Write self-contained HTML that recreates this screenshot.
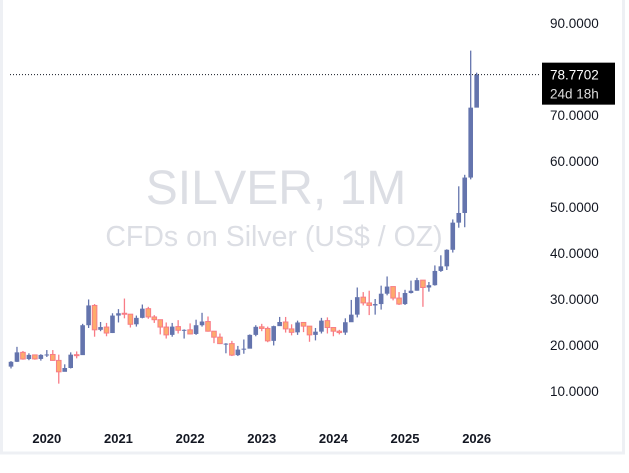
<!DOCTYPE html>
<html><head><meta charset="utf-8"><style>
html,body{margin:0;padding:0;background:#fff;}
svg{display:block;font-family:"Liberation Sans",sans-serif;}
</style></head><body>
<svg id="chart" width="629" height="473" viewBox="0 0 629 473" xmlns="http://www.w3.org/2000/svg">
<rect x="0" y="0" width="629" height="473" fill="#fff"/>
<rect x="1.5" y="-2" width="622" height="455" fill="none" stroke="#eef0f4" stroke-width="3"/>
<text x="276" y="204" font-size="48" fill="#dcdee4" text-anchor="middle">SILVER, 1M</text>
<text x="274" y="246" font-size="28.5" fill="#dcdee4" text-anchor="middle">CFDs on Silver (US$ / OZ)</text>
<g id="yaxis"></g>
<g id="xaxis"></g>
<g id="candles"></g>
<g id="last"></g>
</svg>
<script>
const startYear = 2019, startMonth = 6; // Jul 2019
const closes = [16.35,18.40,16.95,17.85,16.97,17.85,
17.94,16.65,14.17,15.00,17.90,17.80,24.30,28.60,23.30,23.90,22.60,26.40,
26.90,26.70,24.50,25.90,27.90,26.10,25.50,23.90,22.20,24.00,23.20,23.30,
22.40,24.30,25.10,23.00,21.70,20.30,20.30,17.80,19.00,19.20,22.20,23.95,
23.60,20.90,24.10,25.00,23.50,22.75,24.90,24.10,22.20,22.90,25.30,23.80,
23.00,22.70,24.95,26.60,30.40,29.15,28.60,28.90,31.15,32.70,30.20,28.90,
31.30,31.80,34.10,32.50,33.00,36.10,37.10,40.70,46.60,48.70,56.40,71.60,
78.77];
const highs = [16.5,19.6,18.7,18.2,17.9,18.0,
18.9,18.9,17.9,15.8,18.4,18.6,24.6,29.9,28.9,25.0,24.8,26.9,
27.8,30.1,26.7,26.4,28.8,28.3,26.5,24.9,24.9,24.8,25.4,23.4,
24.7,25.5,27.0,26.2,22.9,22.5,20.4,20.9,19.8,21.2,22.3,24.3,
24.6,24.0,24.2,26.1,26.1,24.5,25.3,25.0,23.8,23.7,25.9,26.0,
23.6,23.3,25.8,29.8,32.5,31.5,31.8,30.0,32.9,34.9,32.5,31.5,
32.0,34.0,34.6,33.7,33.7,37.3,39.5,40.8,47.3,54.5,57.0,84.0,
79.2];
const lows = [14.9,16.3,16.8,16.7,16.8,16.6,
17.4,16.6,11.6,14.6,14.9,17.1,18.0,23.7,21.8,23.0,21.9,22.6,
24.9,25.8,23.8,24.0,25.8,25.7,24.8,22.3,21.4,21.8,22.5,21.4,
22.3,22.2,24.0,22.9,20.4,20.2,18.2,17.6,17.6,18.1,20.0,21.9,
23.0,20.6,19.9,24.4,22.7,22.1,22.2,22.8,20.7,21.0,22.5,22.5,
21.9,22.3,22.2,26.0,26.0,28.6,26.5,26.6,27.7,30.8,29.7,28.7,
28.7,31.2,31.8,28.3,31.6,32.9,35.9,36.3,40.1,45.5,45.6,56.0,
72.0];
const firstOpen = 15.30;
const priceTicks = [10,20,30,40,50,60,70,90];
const yearTicks = [2020,2021,2022,2023,2024,2025,2026];
const lastPrice = 78.7702;
const countdown = "24d 18h";

const NS = "http://www.w3.org/2000/svg";
function yScale(v){ return 345 - (v - 20) * 4.6; }
function xScale(i){ return 11 + i * 5.97; }
function mk(tag, attrs, parent){ const e=document.createElementNS(NS,tag); for(const k in attrs) e.setAttribute(k, attrs[k]); parent.appendChild(e); return e; }

const yg = document.getElementById('yaxis');
priceTicks.forEach(v=>{
  const t = mk('text',{x:550,y:yScale(v)+5,'font-size':13.5,fill:'#131722'},yg);
  
  
  t.textContent = v.toFixed(4);
});
const xg = document.getElementById('xaxis');
yearTicks.forEach(yr=>{
  const i = (yr - startYear) * 12 - startMonth;
  const t = mk('text',{x:xScale(i),y:443,'font-size':13,'font-weight':'bold',fill:'#131722','text-anchor':'middle'},xg);
  
  
  t.textContent = yr;
});
const cg = document.getElementById('candles');
closes.forEach((c,i)=>{
  const o = i===0 ? firstOpen : closes[i-1];
  const up = c >= o;
  const x = xScale(i);
  const g = mk('g',{},cg);
  
  
  const col = up ? '#6474ad' : '#f87c86';
  mk('line',{x1:x,x2:x,y1:yScale(highs[i]),y2:yScale(lows[i]),stroke:col,'stroke-width':1.3},g);
  const top = yScale(Math.max(o,c)), bot = yScale(Math.min(o,c));
  mk('rect',{x:x-2.3,y:top,width:4.6,height:Math.max(1,bot-top),fill:up?'#6474ad':'#fdab6c',stroke:col,'stroke-width':up?0:1},g);
});
const lg = document.getElementById('last');
const ly = yScale(lastPrice);
const dl = mk('line',{x1:10,x2:541,y1:ly,y2:ly,stroke:'#131722','stroke-width':1,'stroke-dasharray':'1 2'},lg);


const bx = mk('rect',{x:542,y:ly-12,width:73,height:42,fill:'#000'},lg);


const t1 = mk('text',{x:550,y:ly+5,'font-size':13.5,fill:'#fff'},lg);


t1.textContent = lastPrice.toFixed(4);
const t2 = mk('text',{x:550,y:ly+24,'font-size':13.5,fill:'#ddd'},lg);


t2.textContent = countdown;
</script>
</body></html>
